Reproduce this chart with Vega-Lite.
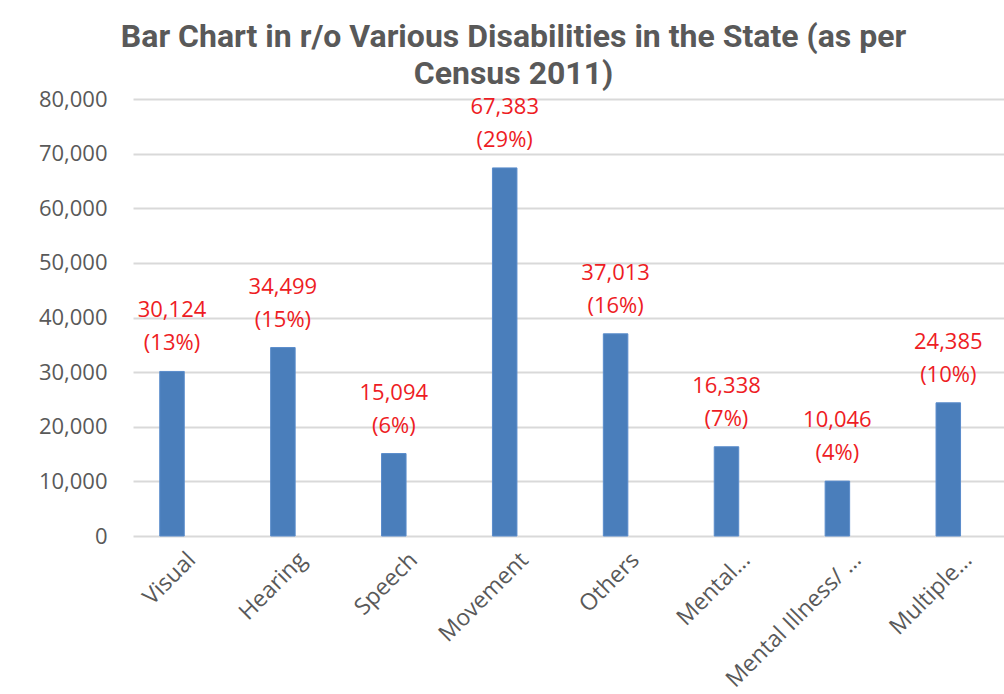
{
  "$schema": "https://vega.github.io/schema/vega-lite/v6.json",
  "autosize": "none",
  "width": 871,
  "height": 437,
  "padding": {"left": 133, "top": 99, "right": 0, "bottom": 158},
  "background": "white",
  "config": {"view": {"stroke": null}},
  "title": {
    "text": ["Bar Chart in r/o Various Disabilities in the State (as per", "Census 2011)"],
    "font": "Roboto",
    "fontWeight": "bold",
    "fontSize": 32,
    "color": "#595959",
    "anchor": "middle",
    "frame": "group",
    "dx": -55,
    "lineHeight": 37,
    "offset": -3
  },
  "data": {
    "values": [
      {"category": "Visual", "value": 30124, "pct": "(13%)"},
      {"category": "Hearing", "value": 34499, "pct": "(15%)"},
      {"category": "Speech", "value": 15094, "pct": "(6%)"},
      {"category": "Movement", "value": 67383, "pct": "(29%)"},
      {"category": "Others", "value": 37013, "pct": "(16%)"},
      {"category": "Mental…", "value": 16338, "pct": "(7%)"},
      {"category": "Mental Illness/ …", "value": 10046, "pct": "(4%)"},
      {"category": "Multiple…", "value": 24385, "pct": "(10%)"}
    ]
  },
  "encoding": {
    "x": {
      "field": "category",
      "type": "nominal",
      "sort": null,
      "scale": {"paddingInner": 0.779, "paddingOuter": 0.3165, "align": 0.381},
      "axis": {
        "title": null,
        "domain": false,
        "ticks": false,
        "labelAngle": -45,
        "labelAlign": "right",
        "labelBaseline": "middle",
        "labelFont": "Open Sans",
        "labelFontSize": 23,
        "labelColor": "#595959",
        "labelPadding": 20,
        "labelOffset": 20,
        "labelLimit": 300
      }
    },
    "y": {
      "field": "value",
      "type": "quantitative",
      "scale": {"domain": [0, 80000], "nice": false},
      "axis": {
        "title": null,
        "values": [0, 10000, 20000, 30000, 40000, 50000, 60000, 70000, 80000],
        "format": ",d",
        "domain": false,
        "ticks": false,
        "grid": true,
        "gridColor": "#d9d9d9",
        "gridWidth": 2,
        "labelFont": "Open Sans",
        "labelFontSize": 22,
        "labelColor": "#595959",
        "labelPadding": 26
      }
    }
  },
  "layer": [
    {"mark": {"type": "bar", "color": "#4a7ebb", "stroke": "#5a8ccb", "strokeWidth": 1}},
    {
      "mark": {"type": "text", "font": "Open Sans", "fontSize": 22, "color": "#ee1c24", "baseline": "middle", "dy": -28},
      "encoding": {"text": {"field": "pct", "type": "nominal"}}
    },
    {
      "mark": {"type": "text", "font": "Open Sans", "fontSize": 22, "color": "#ee1c24", "baseline": "middle", "dy": -61},
      "encoding": {"text": {"field": "value", "type": "quantitative", "format": ","}}
    }
  ]
}
